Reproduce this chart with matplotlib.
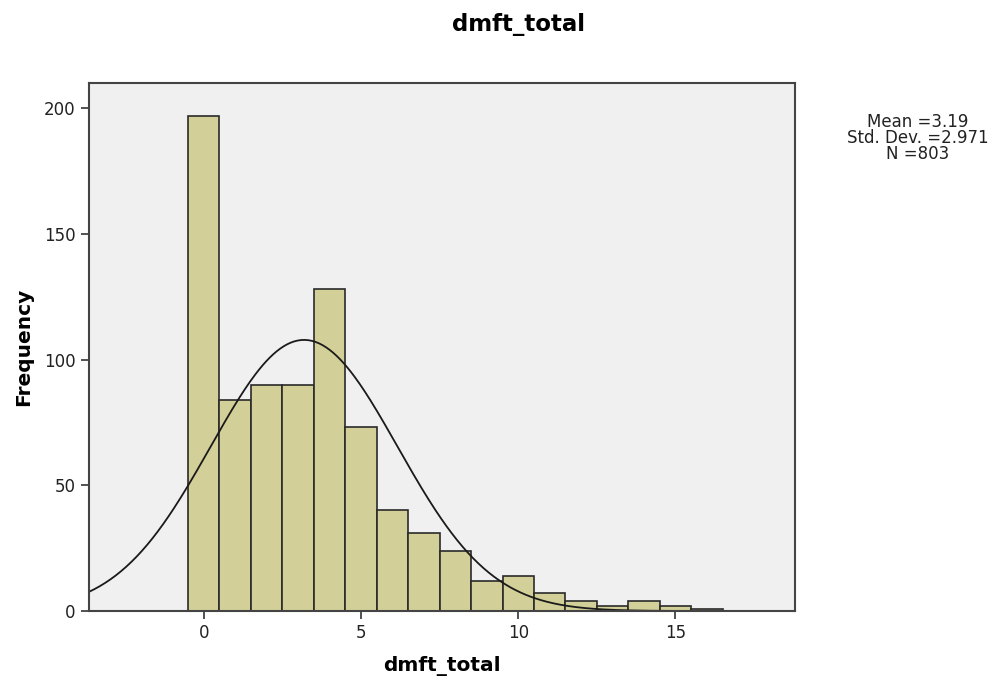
import matplotlib.pyplot as plt
import numpy as np

# histogram counts per integer dmft value
values = [0, 1, 2, 3, 4, 5, 6, 7, 8, 9, 10, 11, 12, 13, 14, 15, 16]
counts = [197, 84, 90, 90, 128, 73, 40, 31, 24, 12, 14, 7, 4, 2, 4, 2, 1]
mean = 3.19
std = 2.971
n = 803

fig = plt.figure(figsize=(9.94, 6.86), dpi=100)
ax = fig.add_axes([0.0895, 0.1093, 0.7103, 0.7697])
ax.set_facecolor('#f0f0f0')

ax.bar(values, counts, width=1.0, color='#d3cf98', edgecolor='#2a2a2a', linewidth=1.2)

xs = np.linspace(-3.65, 18.8, 400)
pdf = n * 1.0 / (std * np.sqrt(2 * np.pi)) * np.exp(-0.5 * ((xs - mean) / std) ** 2)
ax.plot(xs, pdf, color='#1a1a1a', lw=1.3)

ax.set_xlim(-3.65, 18.8)
ax.set_ylim(0, 210)
ax.set_xticks([0, 5, 10, 15])
ax.set_yticks([0, 50, 100, 150, 200])
ax.tick_params(direction='out', length=6, width=1.2, color='#333333', labelsize=12, labelcolor='#222222')
for s in ax.spines.values():
    s.set_color('#444444')
    s.set_linewidth(1.5)

ax.set_xlabel('dmft_total', fontsize=14.5, fontweight='bold', labelpad=10)
ax.set_ylabel('Frequency', fontsize=14.5, fontweight='bold', labelpad=8)
fig.text(0.522, 0.9636, 'dmft_total', ha='center', va='center', fontsize=16.5, fontweight='bold')

fig.text(0.923, 0.799, 'Mean =%.2f\nStd. Dev. =%.3f\nN =%d' % (mean, std, n),
         ha='center', va='center', fontsize=12, linespacing=0.85, color='#222222')

fig.savefig('out.png', dpi=100)
